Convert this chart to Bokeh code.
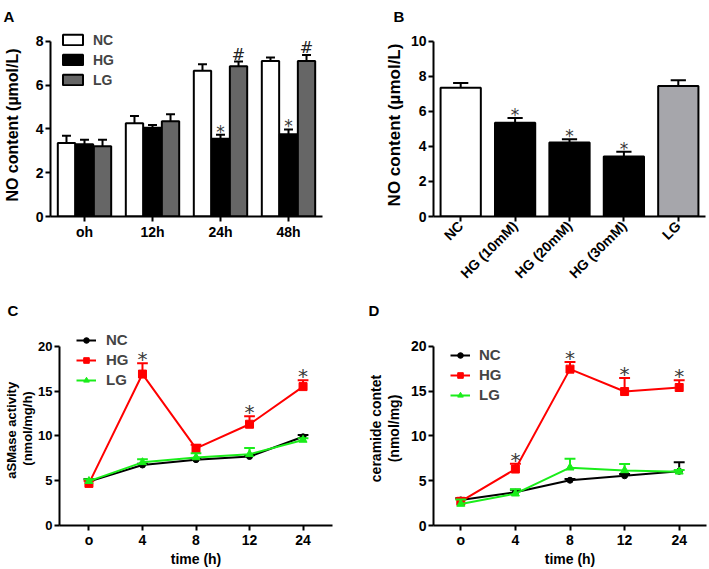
import math
from bokeh.plotting import figure
from bokeh.models import (ColumnDataSource, FactorRange, Range1d, Legend, LegendItem,
                          FixedTicker)
from bokeh.transform import dodge
from bokeh.layouts import row, column
from bokeh.embed import file_html
from bokeh.resources import INLINE
from bokeh.core.properties import value

# ---------------- data ----------------
# Panel A
a_times = ["oh", "12h", "24h", "48h"]
a_nc = [3.35, 4.25, 6.65, 7.1]
a_nc_err = [0.33, 0.33, 0.3, 0.15]
a_hg = [3.3, 4.05, 3.55, 3.75]
a_hg_err = [0.2, 0.12, 0.18, 0.22]
a_lg = [3.2, 4.35, 6.85, 7.1]
a_lg_err = [0.3, 0.32, 0.22, 0.27]
a_hg_mark = ["", "", "*", "*"]
a_lg_mark = ["", "", "#", "#"]
a_yticks = [0, 2, 4, 6, 8]

# Panel B
b_groups = ["NC", "HG (10mM)", "HG (20mM)", "HG (30mM)", "LG"]
b_vals = [7.35, 5.35, 4.22, 3.42, 7.45]
b_err = [0.27, 0.27, 0.18, 0.28, 0.32]
b_colors = ["white", "black", "black", "black", "#a6a6ab"]
b_mark = ["", "*", "*", "*", ""]
b_yticks = [0, 2, 4, 6, 8, 10]

# Panel C
c_times = ["o", "4", "8", "12", "24"]
c_nc = [4.9, 6.75, 7.35, 7.7, 9.9]
c_nc_err = [0.3, 0.15, 0.15, 0.15, 0.2]
c_hg = [4.7, 16.9, 8.6, 11.3, 15.5]
c_hg_err = [0.3, 1.2, 0.4, 0.9, 0.7]
c_lg = [4.95, 7.05, 7.6, 7.95, 9.55]
c_lg_err = [0.2, 0.35, 0.45, 0.7, 0.2]
c_mark = ["", "*", "", "*", "*"]

# Panel D
d_times = ["o", "4", "8", "12", "24"]
d_nc = [2.85, 3.7, 5.05, 5.55, 6.05]
d_nc_err = [0.2, 0.3, 0.15, 0.2, 1.0]
d_hg = [2.7, 6.3, 17.45, 14.95, 15.4]
d_hg_err = [0.3, 0.6, 0.8, 1.5, 0.8]
d_lg = [2.4, 3.55, 6.45, 6.15, 6.0]
d_lg_err = [0.5, 0.5, 1.0, 0.7, 0.2]
d_mark = ["", "*", "*", "*", "*"]
line_yticks = [0, 5, 10, 15, 20]

FONT = "Liberation Sans"
MARK_COLOR = "#3a3a3a"
RED = "#ff0000"
GREEN = "#1aed1a"


def style(p, tick_size="14px", label_size="14px"):
    p.outline_line_color = None
    p.xgrid.visible = False
    p.ygrid.visible = False
    p.background_fill_color = "white"
    p.border_fill_color = "white"
    for ax in p.axis:
        ax.axis_line_width = 2
        ax.axis_line_color = "black"
        ax.major_tick_line_width = 2
        ax.major_tick_line_color = "black"
        ax.major_tick_out = 5
        ax.major_tick_in = 0
        ax.minor_tick_line_color = None
        ax.major_label_text_font = FONT
        ax.major_label_text_font_style = "bold"
        ax.major_label_text_font_size = tick_size
        ax.major_label_text_color = "black"
        ax.major_label_standoff = 2
        ax.axis_label_text_font = FONT
        ax.axis_label_text_font_style = "bold"
        ax.axis_label_text_font_size = label_size
        ax.axis_label_text_color = "black"


def panel_letter(p, txt, offset, standoff):
    p.title.text = txt
    p.title.align = "left"
    p.title.vertical_align = "top"
    p.title.offset = offset
    p.title.standoff = standoff
    p.title.text_font = FONT
    p.title.text_font_style = "bold"
    p.title.text_font_size = "15px"
    p.title.text_line_height = 1.0
    p.title.text_color = "black"


def errbars(p, src, x, lo, hi, color, off, half):
    p.segment(x0=dodge(x, off, range=p.x_range), y0=lo,
              x1=dodge(x, off, range=p.x_range), y1=hi,
              line_color=color, line_width=2, source=src)
    p.segment(x0=dodge(x, off - half, range=p.x_range), y0=hi,
              x1=dodge(x, off + half, range=p.x_range), y1=hi,
              line_color=color, line_width=2, source=src)


def marks(p, src, x, y, col, off, size, yoff, color=MARK_COLOR):
    p.text(x=dodge(x, off, range=p.x_range), y=y, text=col, source=src,
           text_align="center", text_baseline="alphabetic", y_offset=yoff,
           text_font=value("DejaVu Sans"), text_font_size=size, text_color=color)


# ---------------- Panel A ----------------
src_a = ColumnDataSource(dict(
    t=a_times, nc=a_nc, hg=a_hg, lg=a_lg,
    nc_hi=[v + e for v, e in zip(a_nc, a_nc_err)],
    hg_hi=[v + e for v, e in zip(a_hg, a_hg_err)],
    lg_hi=[v + e for v, e in zip(a_lg, a_lg_err)],
    hg_m=a_hg_mark, lg_m=a_lg_mark))

pa = figure(x_range=FactorRange(*a_times), y_range=Range1d(0, 8.35),
            width=354, height=290,
            min_border_left=50, min_border_right=32, min_border_top=31, min_border_bottom=72,
            output_backend="svg", toolbar_location=None)
OFF = 0.265
BW = 0.255
errbars(pa, src_a, "t", "nc", "nc_hi", "black", -OFF, 0.066)
errbars(pa, src_a, "t", "hg", "hg_hi", "black", 0, 0.066)
errbars(pa, src_a, "t", "lg", "lg_hi", "black", OFF, 0.066)
r_nc = pa.vbar(x=dodge("t", -OFF, range=pa.x_range), top="nc", width=BW, source=src_a,
               fill_color="white", line_color="black", line_width=2)
r_hg = pa.vbar(x=dodge("t", 0, range=pa.x_range), top="hg", width=BW, source=src_a,
               fill_color="black", line_color="black", line_width=2)
r_lg = pa.vbar(x=dodge("t", OFF, range=pa.x_range), top="lg", width=BW, source=src_a,
               fill_color="#666666", line_color="black", line_width=2)
marks(pa, src_a, "t", "hg_hi", "hg_m", 0, "17px", -3)
marks(pa, src_a, "t", "lg_hi", "lg_m", OFF, "16px", -7, "#222222")
pa.yaxis.ticker = FixedTicker(ticks=a_yticks)
pa.yaxis.bounds = (a_yticks[0], a_yticks[-1])
pa.yaxis.axis_label = "NO content (µmol/L)"
style(pa, label_size="16px")
pa.yaxis.axis_label_standoff = 12
leg_a = Legend(items=[LegendItem(label="NC", renderers=[r_nc]),
                      LegendItem(label="HG", renderers=[r_hg]),
                      LegendItem(label="LG", renderers=[r_lg])],
               location=(10, 128), glyph_width=25, glyph_height=13, label_height=17,
               spacing=3, padding=0, margin=0, label_standoff=8,
               label_text_font=FONT, label_text_font_style="bold", label_text_font_size="14px",
               border_line_alpha=0, background_fill_alpha=0)
pa.add_layout(leg_a, "center")
panel_letter(pa, "A", -47, 14)

# ---------------- Panel B ----------------
src_b = ColumnDataSource(dict(
    g=b_groups, v=b_vals, c=b_colors,
    hi=[v + e for v, e in zip(b_vals, b_err)], m=b_mark))
pb = figure(x_range=FactorRange(*b_groups), y_range=Range1d(b_yticks[0], 10.44),
            width=355, height=290,
            min_border_left=79, min_border_right=4, min_border_top=31, min_border_bottom=72,
            output_backend="svg", toolbar_location=None)
errbars(pb, src_b, "g", "v", "hi", "black", 0, 0.14)
pb.vbar(x="g", top="v", width=0.74, source=src_b, fill_color="c",
        line_color="black", line_width=2)
marks(pb, src_b, "g", "hi", "m", 0, "17px", -3)
pb.yaxis.ticker = FixedTicker(ticks=b_yticks)
pb.yaxis.bounds = (b_yticks[0], b_yticks[-1])
pb.yaxis.axis_label = "NO content (µmol/L)"
style(pb, label_size="17px")
pb.yaxis.axis_label_standoff = 4
pb.xaxis.major_label_orientation = math.pi / 4
panel_letter(pb, "B", -40, 14)


# ---------------- Panels C, D ----------------
def line_panel(times, nc, nc_err, hg, hg_err, lg, lg_err, mk, width, bl, br, bt, ylabel,
               pad, leg_loc, standoff, ylab_standoff, ylab_size, ytick_size):
    src = ColumnDataSource(dict(
        t=times, nc=nc, hg=hg, lg=lg,
        nc_hi=[v + e for v, e in zip(nc, nc_err)],
        hg_hi=[v + e for v, e in zip(hg, hg_err)],
        lg_hi=[v + e for v, e in zip(lg, lg_err)], m=mk))
    p = figure(x_range=FactorRange(*times, range_padding=pad), y_range=Range1d(0, 21.65),
               width=width, height=279,
               min_border_left=bl, min_border_right=br, min_border_top=bt, min_border_bottom=43,
               output_backend="svg", toolbar_location=None)
    errbars(p, src, "t", "nc", "nc_hi", "black", 0, 0.1)
    l_nc = p.line(x="t", y="nc", source=src, line_color="black", line_width=2)
    s_nc = p.scatter(x="t", y="nc", source=src, marker="circle", size=6, color="black")
    errbars(p, src, "t", "hg", "hg_hi", RED, 0, 0.1)
    l_hg = p.line(x="t", y="hg", source=src, line_color=RED, line_width=2)
    s_hg = p.scatter(x="t", y="hg", source=src, marker="square", size=8, color=RED)
    errbars(p, src, "t", "lg", "lg_hi", GREEN, 0, 0.1)
    l_lg = p.line(x="t", y="lg", source=src, line_color=GREEN, line_width=2)
    s_lg = p.scatter(x="t", y="lg", source=src, marker="triangle", size=8, color=GREEN)
    marks(p, src, "t", "hg_hi", "m", 0, "20px", -4)
    p.yaxis.ticker = FixedTicker(ticks=line_yticks)
    p.yaxis.bounds = (line_yticks[0], line_yticks[-1])
    p.yaxis.axis_label = ylabel
    p.xaxis.axis_label = "time (h)"
    style(p, tick_size="14px", label_size="14px")
    p.yaxis.major_label_text_font_size = ytick_size
    p.yaxis.axis_label_text_font_size = ylab_size
    p.yaxis.axis_label_standoff = ylab_standoff
    p.yaxis.axis_label_text_line_height = 1.1
    p.xaxis.axis_label_standoff = 0
    p.xaxis.major_label_standoff = 1
    leg = Legend(items=[LegendItem(label="NC", renderers=[l_nc, s_nc]),
                        LegendItem(label="HG", renderers=[l_hg, s_hg]),
                        LegendItem(label="LG", renderers=[l_lg, s_lg])],
                 location=leg_loc, glyph_width=20, glyph_height=14, label_height=17,
                 spacing=3, padding=0, margin=0, label_standoff=standoff,
                 label_text_font=FONT, label_text_font_style="bold", label_text_font_size="15px",
                 border_line_alpha=0, background_fill_alpha=0)
    p.add_layout(leg, "center")
    return p


pc = line_panel(c_times, c_nc, c_nc_err, c_hg, c_hg_err, c_lg, c_lg_err, c_mark,
                354, 55, 22, 39, "aSMase  activity\n(nmol/mg/h)", 0.02, (17, 137), 10, 0,
                "13px", "13px")
panel_letter(pc, "C", -52, 22)

pd = line_panel(d_times, d_nc, d_nc_err, d_hg, d_hg_err, d_lg, d_lg_err, d_mark,
                355, 79, 3, 39, "ceramide contet\n(nmol/mg)", 0.0, (17, 122), 9, 6,
                "14px", "14px")
panel_letter(pd, "D", -65, 22)

layout = column(row(pa, pb), row(pc, pd))
open("out.html", "w").write(file_html(layout, INLINE))
